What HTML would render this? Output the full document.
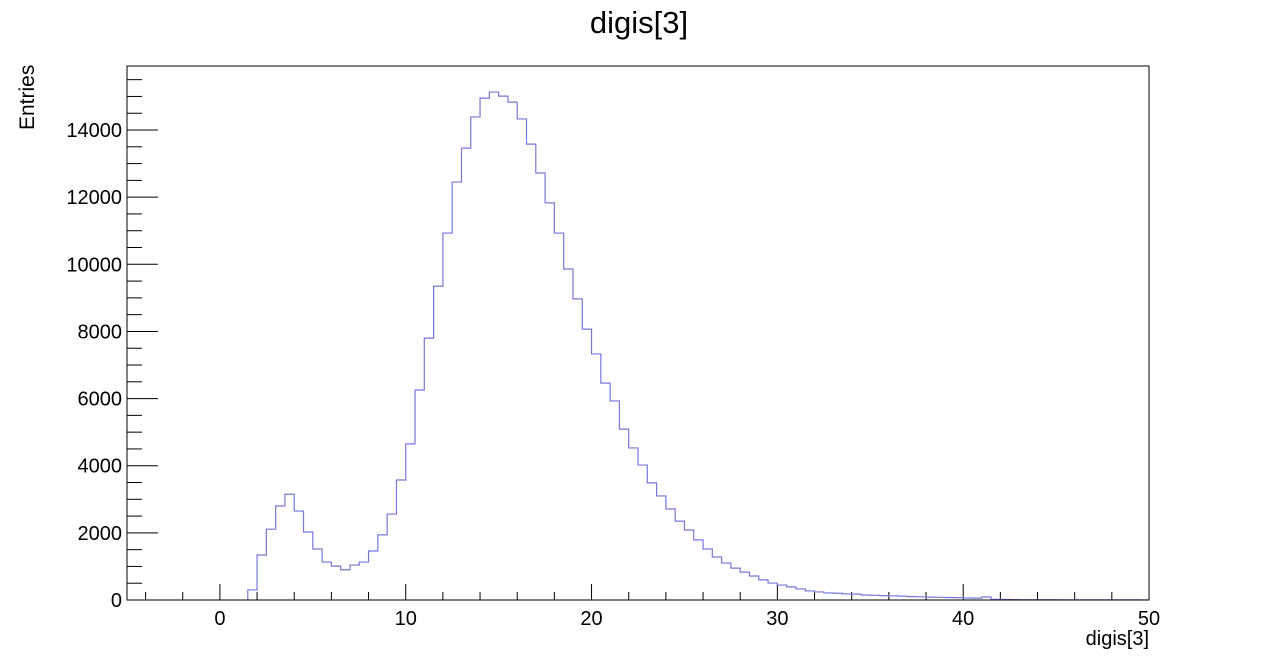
<!DOCTYPE html>
<html><head><meta charset="utf-8"><style>
html,body{margin:0;padding:0;background:#fff;}
svg{display:block;font-family:"Liberation Sans",Arial,sans-serif;}
</style></head><body>
<svg id="c" width="1278" height="668">
<text x="639" y="33" font-size="31" text-anchor="middle">digis[3]</text>
<text transform="translate(34,130) rotate(-90)" font-size="21" text-anchor="start">Entries</text>
<text x="1149" y="645" font-size="20" text-anchor="end">digis[3]</text>
<g id="ax"></g>
<path id="h" fill="none" stroke="#7777dd" stroke-width="1.2"></path>
<rect x="127" y="66" width="1022" height="534" fill="none" stroke="#000" stroke-width="1"></rect>
</svg>
<script>
const binStart = 1.5;
const binWidth = 0.5;
const counts = [300,1340,2110,2800,3150,2650,2025,1520,1130,1010,900,1040,1130,1460,1940,2560,3575,4650,6255,7800,9350,10930,12450,13460,14390,14950,15130,15010,14830,14330,13580,12720,11830,10930,9860,8970,8070,7330,6460,5930,5090,4530,4020,3490,3100,2710,2350,2085,1790,1520,1280,1100,950,830,715,600,505,445,390,330,270,240,210,200,180,175,150,140,130,125,115,100,95,85,80,75,70,60,55,90,20,15,12,10,10,8,8,6,6,5,5,4,4,3,3,3,2];
const xTicks = [0,10,20,30,40,50];
const yTicks = [0,2000,4000,6000,8000,10000,12000,14000];
const xMin=-5,xMax=50,yMin=0,yMax=15907;
const L=127,R=1149,T=66,B=600;
const sx=v=>L+(v-xMin)/(xMax-xMin)*(R-L);
const sy=v=>B-(v-yMin)/(yMax-yMin)*(B-T);
const NS="http://www.w3.org/2000/svg";
const ax=document.getElementById('ax');
function ln(x1,y1,x2,y2,name){const e=document.createElementNS(NS,'line');e.setAttribute('x1',x1);e.setAttribute('y1',y1);e.setAttribute('x2',x2);e.setAttribute('y2',y2);e.setAttribute('stroke','#000');e.setAttribute('stroke-width','1');


ax.appendChild(e);}
function tx(x,y,s,anchor,name){const e=document.createElementNS(NS,'text');e.setAttribute('x',x);e.setAttribute('y',y);e.setAttribute('font-size','20');e.setAttribute('text-anchor',anchor);e.textContent=s;


ax.appendChild(e);}
for(let v=-4;v<=50;v+=2){const major=v%10===0;ln(sx(v),B,sx(v),B-(major?16:8),'x-tick');}
xTicks.forEach(v=>tx(sx(v),625,String(v),'middle','x-tick-label'));
for(let v=0;v<=15500;v+=500){const major=v%2000===0;ln(L,sy(v),L+(major?31:15),sy(v),'y-tick');}
yTicks.forEach(v=>tx(L-5,sy(v)+7,String(v),'end','y-tick-label'));
let d='M'+sx(binStart)+','+sy(0);
counts.forEach((c,i)=>{const x0=sx(binStart+i*binWidth),x1=sx(binStart+(i+1)*binWidth);d+=' L'+x0+','+sy(c)+' L'+x1+','+sy(c);});
d+=' L'+sx(Math.min(xMax,binStart+counts.length*binWidth))+','+sy(0)+' L'+sx(xMax)+','+sy(0);
document.getElementById('h').setAttribute('d',d);
</script>
</body></html>
